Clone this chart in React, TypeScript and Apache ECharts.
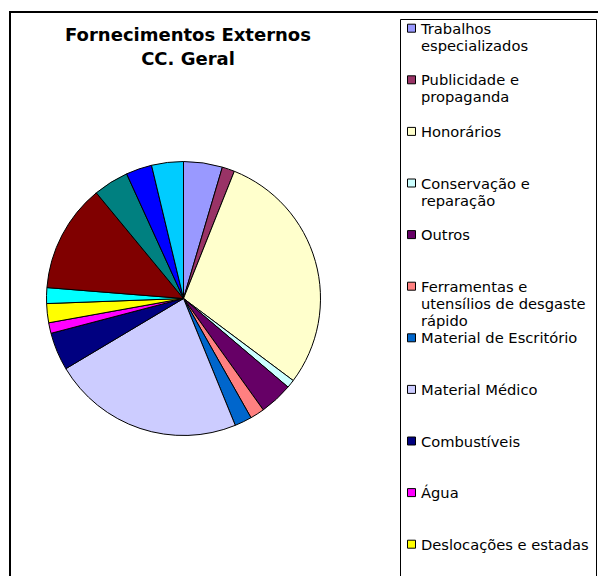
import React, { useEffect, useRef } from "react";
import * as echarts from "echarts";

const titleLines = ["Fornecimentos Externos", "CC. Geral"];

const categories = [
  "Trabalhos especializados",
  "Publicidade e propaganda",
  "Honorários",
  "Conservação e reparação",
  "Outros",
  "Ferramentas e utensílios de desgaste rápido",
  "Material de Escritório",
  "Material Médico",
  "Combustíveis",
  "Água",
  "Deslocações e estadas",
  "Comunicação",
  "Electricidade",
  "Limpeza, higiene e conforto",
  "Rendas e alugueres",
  "Seguros",
];

// percentage shares
const shares = [4.58, 1.47, 29.17, 0.97, 3.92, 1.69, 2.03, 22.61, 4.47, 1.25, 2.25, 1.86, 12.75, 4.17, 3.06, 3.75];

const colors = [
  "#9999FF", "#993366", "#FFFFCC", "#CCFFFF", "#660066", "#FF8080", "#0066CC", "#CCCCFF",
  "#000080", "#FF00FF", "#FFFF00", "#00FFFF", "#800000", "#008080", "#0000FF", "#00CCFF",
];

// legend labels as wrapped in the picture (only the visible ones)
const legendLabels = [
  "Trabalhos\nespecializados",
  "Publicidade e\npropaganda",
  "Honorários",
  "Conservação e\nreparação",
  "Outros",
  "Ferramentas e\nutensílios de desgaste\nrápido",
  "Material de Escritório",
  "Material Médico",
  "Combustíveis",
  "Água",
  "Deslocações e estadas",
];

const FONT = "'DejaVu Sans', Verdana, sans-serif";

export default function App() {
  const ref = useRef<HTMLDivElement>(null);
  useEffect(() => {
    if (!ref.current) return;
    const chart = echarts.init(ref.current, null, { renderer: "svg" });
    const legendTop = 28.2;
    const legendStep = 51.6;
    const legendEls: any[] = [];
    legendLabels.forEach((lab, i) => {
      const cy = legendTop + i * legendStep;
      legendEls.push({
        type: "rect",
        shape: { x: 407.5, y: cy - 4, width: 8, height: 8 },
        style: { fill: colors[i], stroke: "#000", lineWidth: 1 },
        z: 10,
      });
      legendEls.push({
        type: "text",
        x: 421,
        y: cy - 8.5,
        style: {
          text: lab,
          fill: "#000",
          font: `14.7px ${FONT}`,
          lineHeight: 17,
          textVerticalAlign: "top",
        },
        z: 10,
      });
    });
    chart.setOption({
      animation: false,
      backgroundColor: "#fff",
      graphic: [
        {
          type: "rect",
          shape: { x: 10, y: 12, width: 620, height: 620 },
          style: { fill: "none", stroke: "#000", lineWidth: 2 },
          z: 1,
        },
        {
          type: "rect",
          shape: { x: 400.5, y: 19.5, width: 196, height: 620 },
          style: { fill: "#fff", stroke: "#000", lineWidth: 1 },
          z: 5,
        },
        {
          type: "text",
          x: 188,
          y: 22,
          style: {
            text: titleLines.join("\n"),
            fill: "#000",
            font: `bold 18px ${FONT}`,
            lineHeight: 24,
            textAlign: "center",
            textVerticalAlign: "top",
          },
          z: 10,
        },
        ...legendEls,
      ],
      series: [
        {
          type: "pie",
          center: [183.5, 298.5],
          radius: 137,
          startAngle: 90,
          clockwise: true,
          label: { show: false },
          labelLine: { show: false },
          emphasis: { disabled: true },
          itemStyle: { borderColor: "#000", borderWidth: 1 },
          data: categories.map((name, i) => ({
            name,
            value: shares[i],
            itemStyle: { color: colors[i] },
          })),
        },
      ],
    });
    return () => chart.dispose();
  }, []);
  return (
    <div
      ref={ref}
      style={{ position: "fixed", left: 0, top: 0, width: 598, height: 576 }}
    />
  );
}
